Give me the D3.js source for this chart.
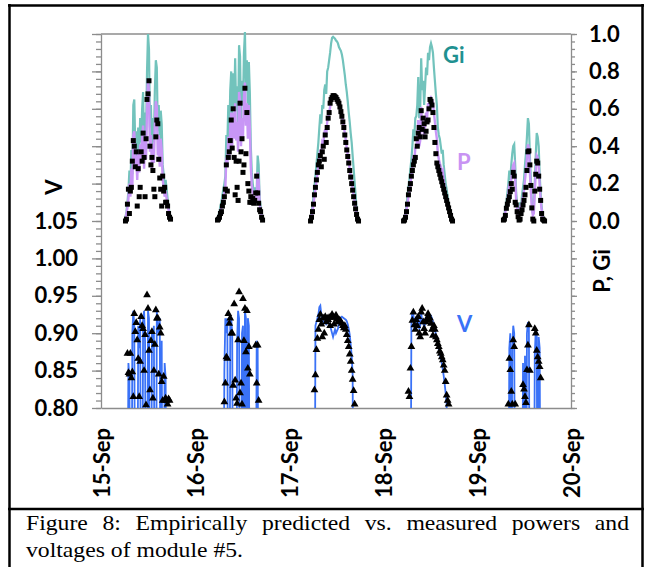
<!DOCTYPE html>
<html>
<head>
<meta charset="utf-8">
<script src="https://cdnjs.cloudflare.com/ajax/libs/d3/7.8.5/d3.min.js"></script>
<style>
  body { margin: 0; background: #fff; }
  svg { display: block; }
  .axis text { font-family: Lato, "Open Sans", sans-serif; font-weight: bold; font-size: 22px; fill: #000; }
</style>
</head>
<body>
<svg id="chart" width="646" height="567"></svg>
<script>
// ---- data, one array per day, 15 min samples ----
var dayDates = ["2013-09-15", "2013-09-16", "2013-09-17", "2013-09-18", "2013-09-19"];
var firstSample = ["06:15", "05:45", "05:30", "05:15", "06:45"];
var sampleMinutes = 15;

var giDays = [
  [0.02,0.05,0.10,0.16,0.27,0.18,0.38,0.25,0.62,0.65, 0.40,0.48,0.30,0.50,0.36,0.55,0.42,0.60,0.69,0.38,
   0.58,0.45,0.80,1.00,0.92,0.50,0.62,0.38,0.55,0.42, 0.70,0.86,0.82,0.48,0.62,0.40,0.59,0.52,0.30,0.25,
   0.18,0.22,0.17,0.12,0.08,0.04,0.01],
  [0.01,0.03,0.05,0.08,0.10,0.14,0.17,0.20,0.24,0.46, 0.40,0.62,0.45,0.70,0.80,0.55,0.79,0.60,0.87,0.59,
   0.72,0.50,0.94,0.88,0.55,0.75,0.62,0.90,1.01,0.70, 0.86,0.60,0.85,0.69,0.40,0.26,0.20,0.15,0.18,0.14,
   0.16,0.35,0.30,0.12,0.08,0.04,0.01],
  [0.01,0.04,0.08,0.13,0.18,0.24,0.30,0.36,0.42,0.50, 0.57,0.52,0.62,0.60,0.70,0.73,0.68,0.80,0.82,0.86,
   0.90,0.95,0.98,0.985,0.98,0.975,0.965,0.96,0.95,0.93, 0.92,0.91,0.89,0.86,0.82,0.78,0.73,0.69,0.64,0.58,
   0.53,0.47,0.42,0.35,0.28,0.21,0.14,0.06,0.02,0.00],
  [0.00,0.02,0.04,0.08,0.13,0.18,0.22,0.28,0.33,0.40, 0.49,0.45,0.55,0.56,0.62,0.77,0.55,0.60,0.87,0.70,
   0.75,0.62,0.72,0.82,0.78,0.90,0.86,0.93,0.95,0.93, 0.90,0.82,0.75,0.68,0.62,0.50,0.46,0.44,0.40,0.36,
   0.38,0.30,0.25,0.20,0.17,0.13,0.09,0.06,0.04,0.02, 0.00],
  [0.00,0.03,0.07,0.10,0.15,0.20,0.27,0.22,0.30,0.36, 0.40,0.41,0.30,0.15,0.08,0.04,0.06,0.10,0.08,0.14,
   0.18,0.22,0.30,0.36,0.45,0.55,0.52,0.35,0.22,0.10, 0.04,0.06,0.20,0.35,0.47,0.45,0.40,0.25,0.15,0.08,
   0.03,0.02,0.00]
];

var pPredDays = [
  [0.01,0.04,0.07,0.12,0.20,0.13,0.28,0.18,0.46,0.48, 0.29,0.35,0.22,0.37,0.26,0.41,0.31,0.44,0.51,0.28,
   0.43,0.33,0.60,0.76,0.69,0.37,0.46,0.28,0.41,0.31, 0.52,0.64,0.61,0.35,0.46,0.29,0.44,0.38,0.22,0.18,
   0.13,0.16,0.12,0.09,0.06,0.03,0.01],
  [0.005,0.02,0.04,0.06,0.07,0.10,0.12,0.15,0.18,0.34, 0.29,0.45,0.33,0.51,0.58,0.40,0.58,0.44,0.63,0.43,
   0.53,0.37,0.69,0.64,0.40,0.55,0.45,0.66,0.74,0.51, 0.63,0.44,0.62,0.50,0.29,0.19,0.15,0.11,0.13,0.10,
   0.12,0.26,0.22,0.09,0.06,0.03,0.005],
  [0.00,0.02,0.05,0.09,0.13,0.17,0.21,0.25,0.29,0.34, 0.38,0.36,0.42,0.41,0.47,0.49,0.46,0.53,0.55,0.58,
   0.61,0.64,0.66,0.67,0.67,0.665,0.66,0.65,0.64,0.625, 0.61,0.59,0.565,0.535,0.505,0.47,0.43,0.39,0.355,0.32,
   0.28,0.245,0.21,0.175,0.14,0.105,0.07,0.04,0.015,0.00],
  [0.00,0.01,0.03,0.06,0.09,0.13,0.16,0.20,0.24,0.29, 0.35,0.32,0.39,0.40,0.44,0.54,0.40,0.43,0.61,0.50,
   0.53,0.45,0.51,0.58,0.55,0.63,0.61,0.65,0.66,0.65, 0.63,0.58,0.53,0.48,0.44,0.36,0.33,0.31,0.29,0.26,
   0.27,0.22,0.18,0.15,0.12,0.095,0.065,0.045,0.03,0.015, 0.00],
  [0.00,0.02,0.05,0.07,0.11,0.15,0.20,0.16,0.22,0.27, 0.30,0.31,0.22,0.11,0.06,0.03,0.04,0.07,0.06,0.10,
   0.13,0.16,0.22,0.27,0.34,0.41,0.39,0.26,0.16,0.07, 0.03,0.04,0.15,0.26,0.35,0.34,0.30,0.19,0.11,0.06,
   0.02,0.01,0.00]
];

var pMeasDays = [
  [0.00,0.01,0.09,0.17,0.04,0.16,0.18,0.32,0.43,0.40, 0.29,0.37,0.08,0.28,0.13,0.18,0.37,0.32,0.47,0.34,
   0.13,0.44,0.65,0.68,0.75,0.40,0.30,0.34,0.27,0.17, 0.13,0.45,0.54,0.52,0.33,0.23,0.17,0.08,0.24,0.16,
   0.18,0.10,0.10,0.08,0.04,0.02,0.01],
  [0.005,0.01,0.02,0.04,0.05,0.08,0.10,0.13,0.17,0.30, 0.16,0.34,0.37,0.43,0.54,0.39,0.60,0.34,0.14,0.32,
   0.18,0.11,0.32,0.63,0.37,0.44,0.26,0.30,0.71,0.36, 0.58,0.20,0.16,0.10,0.13,0.10,0.12,0.095,0.11,0.15,
   0.24,0.15,0.095,0.06,0.05,0.02,0.005],
  [0.00,0.02,0.05,0.09,0.14,0.18,0.22,0.26,0.30,0.32, 0.35,0.29,0.37,0.40,0.33,0.46,0.42,0.50,0.55,0.58,
   0.63,0.65,0.66,0.67,0.67,0.665,0.66,0.65,0.64,0.63, 0.61,0.585,0.56,0.53,0.50,0.46,0.42,0.38,0.345,0.31,
   0.27,0.235,0.20,0.165,0.13,0.095,0.065,0.035,0.01,0.00],
  [0.00,0.005,0.02,0.05,0.09,0.14,0.17,0.20,0.24,0.27, 0.30,0.32,0.34,0.44,0.40,0.47,0.50,0.45,0.59,0.49,
   0.55,0.52,0.45,0.48,0.53,0.54,0.60,0.65,0.64,0.62, 0.58,0.50,0.42,0.36,0.31,0.29,0.27,0.25,0.23,0.21,
   0.19,0.17,0.15,0.13,0.11,0.09,0.07,0.05,0.03,0.01, 0.00],
  [0.005,0.01,0.03,0.068,0.09,0.11,0.13,0.157,0.20,0.17, 0.26,0.24,0.10,0.086,0.05,0.023,0.005,0.01,0.04,0.06,
   0.086,0.11,0.14,0.18,0.27,0.37,0.375,0.30,0.19,0.07, 0.01,0.00,0.16,0.25,0.32,0.31,0.24,0.17,0.11,0.04,
   0.01,0.005,0.00]
];

var vPredDays = [
  [0.50,0.55,0.60,0.86,0.84,0.55,0.50,0.90,0.93,0.91, 0.55,0.50,0.55,0.91,0.88,0.92,0.55,0.50,0.92,0.93,
   0.89,0.55,0.50,0.93,0.92,0.55,0.50,0.90,0.88,0.91, 0.55,0.50,0.93,0.91,0.90,0.92,0.55,0.89,0.55,0.50,
   0.86,0.84,0.55,0.50,0.50,0.45,0.45],
  [0.45,0.50,0.50,0.55,0.55,0.55,0.60,0.85,0.92,0.90, 0.92,0.55,0.50,0.91,0.92,0.90,0.55,0.50,0.55,0.50,
   0.89,0.93,0.92,0.55,0.50,0.90,0.91,0.55,0.93,0.92, 0.55,0.92,0.91,0.55,0.50,0.50,0.55,0.50,0.55,0.55,
   0.89,0.88,0.55,0.50,0.50,0.45,0.45],
  [0.40,0.45,0.45,0.50,0.50,0.91,0.915,0.92,0.925,0.935, 0.937,0.925,0.918,0.915,0.914,0.915,0.912,0.914,0.915,0.913,
   0.91,0.905,0.90,0.895,0.90,0.905,0.90,0.903,0.906,0.912, 0.918,0.921,0.922,0.921,0.92,0.919,0.918,0.916,0.912,0.906,
   0.898,0.885,0.87,0.845,0.55,0.50,0.45,0.45,0.40,0.40],
  [0.40,0.40,0.45,0.45,0.50,0.50,0.50,0.55,0.915,0.93, 0.925,0.91,0.92,0.915,0.92,0.925,0.905,0.91,0.928,0.915,
   0.92,0.905,0.913,0.92,0.918,0.925,0.92,0.922,0.923,0.92, 0.915,0.912,0.905,0.898,0.892,0.885,0.878,0.872,0.866,0.86,
   0.852,0.843,0.832,0.82,0.805,0.55,0.50,0.45,0.45,0.40, 0.40],
  [0.45,0.50,0.50,0.55,0.55,0.55,0.88,0.90,0.55,0.88, 0.91,0.90,0.55,0.50,0.45,0.45,0.50,0.50,0.55,0.55,
   0.86,0.55,0.87,0.55,0.90,0.915,0.91,0.55,0.50,0.50, 0.45,0.55,0.87,0.905,0.90,0.55,0.895,0.88,0.55,0.50,
   0.50,0.45,0.45]
];

var vMeasDays = [
  [0.60,0.62,0.873,0.847,0.845,0.873,0.84,0.848,0.815,0.926, 0.902,0.914,0.891,0.866,0.815,0.862,0.922,0.91,0.906,0.85,
   0.898,0.804,0.951,0.933,0.877,0.824,0.89,0.902,0.813,0.85, 0.885,0.931,0.92,0.92,0.845,0.908,0.90,0.835,0.81,0.842,
   0.81,0.813,0.81,0.805,0.812,0.81,0.70],
  [0.55,0.58,0.62,0.66,0.70,0.72,0.75,0.808,0.833,0.868, 0.866,0.926,0.913,0.92,0.90,0.90,0.83,0.939,0.837,0.813,
   0.806,0.891,0.955,0.82,0.833,0.805,0.946,0.89,0.933,0.875, 0.930,0.853,0.882,0.845,0.78,0.78,0.79,0.78,0.78,0.884,
   0.833,0.884,0.81,0.75,0.70,0.65,0.60],
  [0.50,0.60,0.70,0.78,0.824,0.844,0.878,0.893,0.905,0.918, 0.925,0.912,0.895,0.92,0.90,0.922,0.915,0.92,0.918,0.921,
   0.91,0.922,0.925,0.921,0.912,0.921,0.924,0.919,0.915,0.918, 0.917,0.915,0.913,0.91,0.907,0.91,0.905,0.898,0.89,0.882,
   0.872,0.862,0.85,0.838,0.823,0.805,0.70,0.60,0.55,0.50],
  [0.40,0.50,0.60,0.70,0.78,0.822,0.815,0.853,0.882,0.917, 0.928,0.911,0.905,0.918,0.91,0.922,0.90,0.895,0.928,0.933,
   0.915,0.906,0.90,0.915,0.92,0.926,0.918,0.92,0.913,0.905, 0.897,0.91,0.905,0.895,0.891,0.886,0.882,0.876,0.873,0.868,
   0.864,0.857,0.85,0.835,0.817,0.81,0.805,0.70,0.65,0.60, 0.55],
  [0.50,0.55,0.60,0.65,0.72,0.805,0.866,0.851,0.822,0.805, 0.891,0.882,0.805,0.75,0.70,0.65,0.70,0.75,0.78,0.79,
   0.831,0.825,0.815,0.807,0.851,0.884,0.911,0.85,0.78,0.75, 0.70,0.76,0.906,0.90,0.877,0.868,0.862,0.855,0.84,0.75,
   0.70,0.65,0.60]
];

var vTickLabels = ["0.80", "0.85", "0.90", "0.95", "1.00", "1.05"];
var pTickLabels = ["0.0", "0.2", "0.4", "0.6", "0.8", "1.0"];
var captionLines = ["Figure 8: Empirically predicted vs. measured powers and", "voltages of module #5."];

// ---- colours ----
var giColor = "#72c3bc", pColor = "#c896f6", vColor = "#3a72f7", axisGray = "#8c8c8c";

var svg = d3.select("#chart");
var parseTime = d3.timeParse("%Y-%m-%d %H:%M");

var x = d3.scaleTime()
  .domain([parseTime("2013-09-15 00:00"), parseTime("2013-09-20 00:00")])
  .range([101, 571]);
var yV = d3.scaleLinear().domain([0.80, 1.30]).range([408, 34]);
var yP = d3.scaleLinear().domain([-1, 1]).range([408, 34]);

function dayRecords(k) {
  var t0 = parseTime(dayDates[k] + " " + firstSample[k]);
  return giDays[k].map(function (g, i) {
    return {
      t: d3.timeMinute.offset(t0, i * sampleMinutes),
      gi: g, pp: pPredDays[k][i], pm: pMeasDays[k][i],
      vp: vPredDays[k][i], vm: vMeasDays[k][i]
    };
  });
}
var days = dayDates.map(function (d, k) { return dayRecords(k); });

// ---- frame + caption ----
svg.append("rect").attr("width", 646).attr("height", 567).attr("fill", "#fff");
var frame = svg.append("g").attr("stroke", "#000").attr("stroke-width", 2.5);
frame.append("line").attr("x1", 8).attr("x2", 644).attr("y1", 5.5).attr("y2", 5.5);
frame.append("line").attr("x1", 9.5).attr("x2", 9.5).attr("y1", 4).attr("y2", 567);
frame.append("line").attr("x1", 642.5).attr("x2", 642.5).attr("y1", 4).attr("y2", 567);
frame.append("line").attr("x1", 8).attr("x2", 644).attr("y1", 509).attr("y2", 509);

var cap = svg.append("g")
  .attr("font-family", "'Liberation Serif', 'Times New Roman', serif")
  .attr("font-size", 22).attr("fill", "#000");
var line2 = cap.append("text").attr("x", 26).attr("y", 557).text(captionLines[1]);
var stretch = 217 / line2.node().getComputedTextLength();
line2.attr("textLength", 217).attr("lengthAdjust", "spacingAndGlyphs");
var words = captionLines[0].split(" ");
var wordNodes = words.map(function (w) { return cap.append("text").attr("y", 530).text(w); });
var widths = wordNodes.map(function (n) { return n.node().getComputedTextLength() * stretch; });
var gap = (603 - d3.sum(widths)) / (words.length - 1);
var cx = 26;
wordNodes.forEach(function (n, i) {
  n.attr("x", cx).attr("textLength", widths[i]).attr("lengthAdjust", "spacingAndGlyphs");
  cx += widths[i] + gap;
});

// ---- axes ----
function grayAxis(g) {
  g.select(".domain").attr("stroke", axisGray).attr("stroke-width", 1.3);
  g.selectAll(".tick line").attr("stroke", axisGray).attr("stroke-width", 1.3);
}

var vMajor = d3.range(0, 11).map(function (i) { return +(0.80 + i * 0.05).toFixed(2); });
var vMinor = d3.range(0, 51).map(function (i) { return +(0.80 + i * 0.01).toFixed(2); });
var pMajor = d3.range(0, 11).map(function (i) { return +(-1 + i * 0.2).toFixed(1); });
var pMinor = d3.range(0, 51).map(function (i) { return +(-1 + i * 0.04).toFixed(2); });

svg.append("g").attr("transform", "translate(101,0)")
  .call(d3.axisLeft(yV).tickValues(vMinor).tickSize(5).tickFormat(""))
  .call(function (g) { g.select(".domain").remove(); })
  .call(grayAxis);
svg.append("g").attr("class", "axis").attr("transform", "translate(101,0)")
  .call(d3.axisLeft(yV).tickValues(vMajor).tickSize(9).tickSizeOuter(0).tickPadding(14)
    .tickFormat(function (d) { var s = d.toFixed(2); return vTickLabels.indexOf(s) >= 0 ? s : ""; }))
  .call(grayAxis);

svg.append("g").attr("transform", "translate(571,0)")
  .call(d3.axisRight(yP).tickValues(pMinor).tickSize(4).tickFormat(""))
  .call(function (g) { g.select(".domain").remove(); })
  .call(grayAxis);
svg.append("g").attr("class", "axis").attr("transform", "translate(571,0)")
  .call(d3.axisRight(yP).tickValues(pMajor).tickSize(6).tickSizeOuter(0).tickPadding(12)
    .tickFormat(function (d) { var s = (Math.round(d * 10) / 10).toFixed(1); return pTickLabels.indexOf(s) >= 0 ? s : ""; }))
  .call(grayAxis);

// top border of plot
svg.append("line").attr("x1", 101).attr("x2", 571).attr("y1", yV(1.30)).attr("y2", yV(1.30))
  .attr("stroke", axisGray).attr("stroke-width", 1.3);

var xAxisG = svg.append("g").attr("class", "axis").attr("transform", "translate(0,408)")
  .call(d3.axisBottom(x).ticks(d3.timeDay.every(1)).tickSize(0).tickSizeOuter(0)
    .tickFormat(d3.timeFormat("%d-%b")))
  .call(grayAxis);
xAxisG.selectAll(".tick text")
  .attr("transform", "rotate(-90)")
  .attr("text-anchor", "end")
  .attr("x", -20).attr("y", 8).attr("dy", 0);

// axis titles
var titleFont = "Lato, 'Open Sans', sans-serif";
svg.append("text").attr("transform", "translate(62,187) rotate(-90)")
  .attr("text-anchor", "middle").attr("font-family", titleFont).attr("font-weight", "bold")
  .attr("font-size", 22).text("V");
svg.append("text").attr("transform", "translate(610,271) rotate(-90)")
  .attr("text-anchor", "middle").attr("font-family", titleFont).attr("font-weight", "bold")
  .attr("font-size", 22).text("P, Gi");

// ---- series ----
svg.append("clipPath").attr("id", "vclip")
  .append("rect").attr("x", 101).attr("y", 0).attr("width", 470).attr("height", 408);

var giLine = d3.line().x(function (d) { return x(d.t); }).y(function (d) { return yP(d.gi); });
var ppLine = d3.line().x(function (d) { return x(d.t); }).y(function (d) { return yP(d.pp); });
var vpLine = d3.line().x(function (d) { return x(d.t); }).y(function (d) { return yV(d.vp); });

var body = svg.append("g").attr("class", "body");

body.append("g").selectAll("path").data(days).enter().append("path")
  .attr("d", giLine).attr("fill", "none").attr("stroke", giColor).attr("stroke-width", 2.2);
body.append("g").selectAll("path").data(days).enter().append("path")
  .attr("d", ppLine).attr("fill", "none").attr("stroke", pColor).attr("stroke-width", 2.4);
body.append("g").selectAll("rect").data(d3.merge(days)).enter().append("rect")
  .attr("x", function (d) { return x(d.t) - 2.5; })
  .attr("y", function (d) { return yP(d.pm) - 2.5; })
  .attr("width", 5).attr("height", 5).attr("fill", "#000");

body.append("g").attr("clip-path", "url(#vclip)")
  .selectAll("path").data(days).enter().append("path")
  .attr("d", vpLine).attr("fill", "none").attr("stroke", vColor).attr("stroke-width", 1.8);
var tri = d3.symbol().type(d3.symbolTriangle).size(26);
body.append("g").selectAll("path")
  .data(d3.merge(days).filter(function (d) { return d.vm >= yV.domain()[0]; }))
  .enter().append("path")
  .attr("d", tri)
  .attr("transform", function (d) { return "translate(" + x(d.t) + "," + yV(d.vm) + ")"; })
  .attr("fill", "#000");

// series labels
var lab = svg.append("g").attr("font-family", titleFont).attr("font-weight", "bold").attr("font-size", 22);
lab.append("text").attr("x", 443).attr("y", 63).attr("fill", "#1f9191").text("Gi");
lab.append("text").attr("x", 457).attr("y", 170).attr("fill", "#c893f3").text("P");
lab.append("text").attr("x", 457).attr("y", 332).attr("fill", vColor).text("V");
</script>
</body>
</html>
